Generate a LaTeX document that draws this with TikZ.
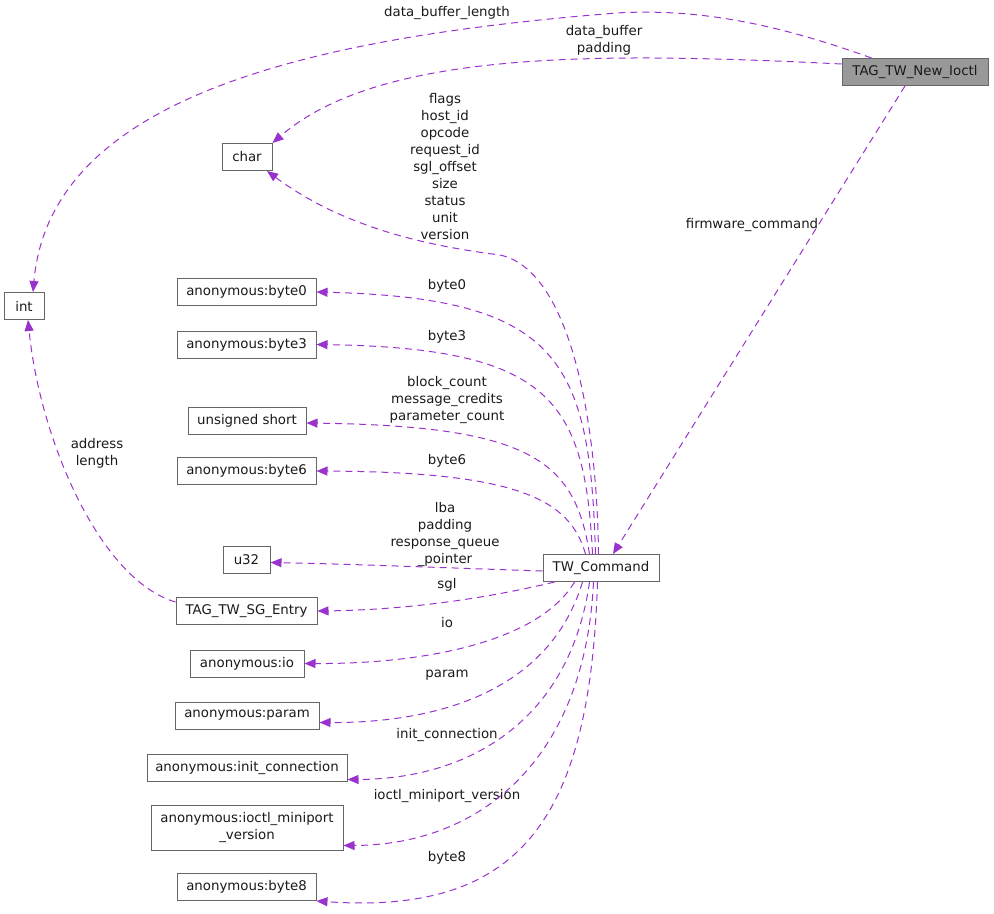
\documentclass[tikz,border=0pt]{standalone}
\usepackage{fontspec}
\setmainfont{DejaVu Sans}
\usetikzlibrary{arrows.meta,calc}
\definecolor{edgec}{HTML}{9A32CD}
\definecolor{boxc}{HTML}{666666}
\definecolor{fillc}{HTML}{999999}
\definecolor{txtc}{HTML}{1A1A1A}
\begin{document}
\begin{tikzpicture}[x=0.75pt,y=-0.75pt,
  box/.style={draw=boxc, line width=0.75pt, fill=white, inner sep=0pt, minimum height=20.25pt, font=\fontsize{10}{12.75}\selectfont, text=txtc, align=center},
  lbl/.style={inner sep=0pt, align=center, font=\fontsize{10}{12.75}\selectfont, text=txtc},
  rel/.style={draw=edgec, line width=0.75pt, dash pattern=on 5.25pt off 3.75pt, -{Triangle[length=8.25pt,width=6.75pt,fill=edgec]}}]
\useasboundingbox (0,0) rectangle (994,913);

% nodes
\node[box, fill=fillc, minimum width=109.5pt] (ioctl) at (915,72) {TAG\_TW\_New\_Ioctl};
\node[box, minimum width=87pt] (cmd) at (601,568) {TW\_Command};
\node[box, minimum width=37.5pt] (char) at (247,157) {char};
\node[box, minimum width=30pt] (int) at (24,306) {int};
\node[box, minimum width=104.25pt] (byte0) at (246.5,292) {anonymous:byte0};
\node[box, minimum width=104.25pt] (byte3) at (246.5,344.5) {anonymous:byte3};
\node[box, minimum width=88.5pt] (ushort) at (247,420.5) {unsigned short};
\node[box, minimum width=104.25pt] (byte6) at (246.5,471) {anonymous:byte6};
\node[box, minimum width=35.25pt] (u32) at (246.5,559.5) {u32};
\node[box, minimum width=105.75pt] (sg) at (246.5,611) {TAG\_TW\_SG\_Entry};
\node[box, minimum width=85.5pt] (io) at (247,663.5) {anonymous:io};
\node[box, minimum width=108pt] (param) at (247,715.5) {anonymous:param};
\node[box, minimum width=150pt] (init) at (247,767.5) {anonymous:init\_connection};
\node[box, minimum width=144pt, minimum height=33.75pt] (mini) at (247,827.5) {anonymous:ioctl\_miniport\\\_version};
\node[box, minimum width=104.25pt] (byte8) at (246.5,887) {anonymous:byte8};

% labels
\node[lbl] (l1) at (447,13) {data\_buffer\_length};
\node[lbl] (l2) at (604,40) {data\_buffer\\padding};
\node[lbl] (l3) at (752,225) {firmware\_command};
\node[lbl] (l4) at (445,167) {flags\\host\_id\\opcode\\request\_id\\sgl\_offset\\size\\status\\unit\\version};
\node[lbl] (l5) at (447,286) {byte0};
\node[lbl] (l6) at (447,337) {byte3};
\node[lbl] (l7) at (447,400) {block\_count\\message\_credits\\parameter\_count};
\node[lbl] (l8) at (447,461) {byte6};
\node[lbl] (l9) at (445,534.5) {lba\\padding\\response\_queue\\\_pointer};
\node[lbl] (l10) at (447,585) {sgl};
\node[lbl] (l11) at (447,623) {io};
\node[lbl] (l12) at (447,675) {param};
\node[lbl] (l13) at (447,735) {init\_connection};
\node[lbl] (l14) at (447,796) {ioctl\_miniport\_version};
\node[lbl] (l15) at (447,858) {byte8};
\node[lbl] (l16) at (97,453.5) {address\\length};

% edges from TAG_TW_New_Ioctl
\draw[rel] ($(ioctl.north west)+(30,0)$) .. controls (780,25) and (700,8) .. (617,13)
  .. controls (300,38) and (50,100) .. ($(int.north)+(9,0)$);
\draw[rel] ($(ioctl.west)+(0,-8)$) .. controls (600,52) and (380,50) .. (char.north east);
\draw[rel] ($(ioctl.south)+(-10,0)$) -- ($(cmd.north)+(12,0)$);

% edges from TW_Command (top)
\draw[rel] ($(cmd.north west)+(56,0)$) .. controls (597,420) and (570,270) .. (500,255)
  .. controls (420,245) and (340,225) .. ($(char.south)+(20,0)$);
\draw[rel] ($(cmd.north west)+(53,0)$) .. controls (590,360) and (560,298) .. (byte0.east);
\draw[rel] ($(cmd.north west)+(50,0)$) .. controls (585,400) and (550,348) .. (byte3.east);
\draw[rel] ($(cmd.north west)+(47,0)$) .. controls (575,460) and (530,426) .. ($(ushort.east)+(0,2.5)$);
\draw[rel] ($(cmd.north west)+(43,0)$) .. controls (570,500) and (520,472) .. (byte6.east);

% edges from TW_Command (side / bottom)
\draw[rel] ($(cmd.west)+(0,3)$) .. controls (450,568) and (350,564) .. ($(u32.east)+(0,3)$);
\draw[rel] ($(cmd.south west)+(12,0)$) .. controls (480,600) and (400,610) .. (sg.east);
\draw[rel] ($(cmd.south west)+(32,0)$) .. controls (540,640) and (430,664) .. (io.east);
\draw[rel] ($(cmd.south west)+(40,0)$) .. controls (550,690) and (440,723) .. ($(param.east)+(0,7)$);
\draw[rel] ($(cmd.south west)+(47,0)$) .. controls (570,720) and (470,779) .. ($(init.south east)+(0,-2)$);
\draw[rel] ($(cmd.south west)+(51,0)$) .. controls (585,760) and (480,845) .. ($(mini.south east)+(0,-5)$);
\draw[rel] ($(cmd.south west)+(55,0)$) .. controls (590,820) and (520,915) .. (byte8.south east);

% TAG_TW_SG_Entry -> int
\draw[rel] ($(sg.west)+(0,-9)$) .. controls (100,580) and (40,440) .. ($(int.south)+(4,0)$);
\end{tikzpicture}
\end{document}
